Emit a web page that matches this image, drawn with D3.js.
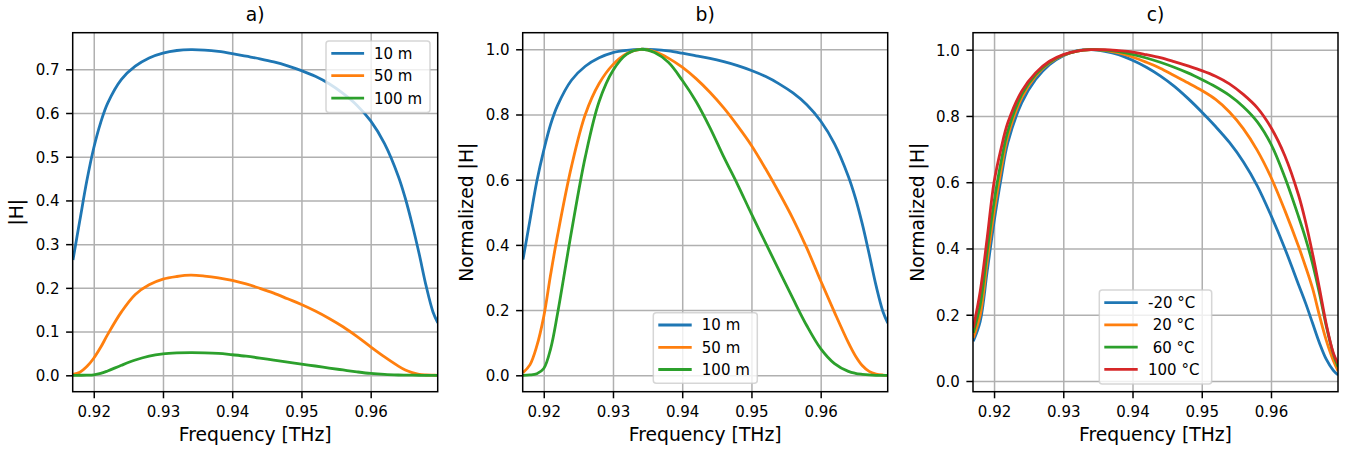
<!DOCTYPE html>
<html><head><meta charset="utf-8">
<script src="https://cdn.jsdelivr.net/npm/d3@7"></script>
<style>
body{margin:0;background:#fff}
svg{display:block}
text{font-family:"DejaVu Sans",sans-serif;fill:#000}
</style>
</head><body>
<svg id="chart" width="1351" height="452"></svg>
<script>
// ---------------- data ----------------
const freq = [0.917,0.918,0.919,0.920,0.921,0.922,0.924,0.926,0.928,0.930,0.932,0.934,0.936,0.938,0.940,0.942,0.944,0.946,0.948,0.950,0.952,0.954,0.956,0.958,0.960,0.962,0.964,0.965,0.966,0.967,0.968,0.969,0.9697];
const xTicks = [0.92,0.93,0.94,0.95,0.96];
const yTicksA = [0,0.1,0.2,0.3,0.4,0.5,0.6,0.7];
const yTicksBC = [0,0.2,0.4,0.6,0.8,1.0];
const lengthLabels = ["10 m","50 m","100 m"];
const tempLabels = ["-20 °C"," 20 °C"," 60 °C","100 °C"];
const titles = ["a)","b)","c)"];
const xLabel = "Frequency [THz]";
const yLabels = ["|H|","Normalized |H|","Normalized |H|"];

// a) |H|
const absH10  = [0.264,0.355,0.445,0.52,0.578,0.622,0.677,0.707,0.726,0.737,0.743,0.745,0.744,0.741,0.736,0.730,0.724,0.717,0.708,0.697,0.684,0.667,0.645,0.618,0.582,0.530,0.455,0.405,0.345,0.278,0.205,0.145,0.120];
const absH50  = [0.002,0.007,0.02,0.039,0.064,0.093,0.145,0.185,0.207,0.220,0.226,0.229,0.227,0.223,0.217,0.209,0.199,0.188,0.175,0.162,0.147,0.130,0.111,0.089,0.065,0.042,0.021,0.012,0.006,0.002,0.0007,0.0002,0];
const absH100 = [0,0.0001,0.0003,0.0011,0.0042,0.0098,0.023,0.035,0.044,0.049,0.0512,0.052,0.0515,0.050,0.047,0.0437,0.0395,0.0348,0.0304,0.0257,0.0213,0.0166,0.0122,0.0079,0.0042,0.0019,0.0007,0.0004,0.0002,0.0001,0,0,0];

// b) normalized |H|
const normH10  = [0.355,0.475,0.595,0.69,0.77,0.828,0.905,0.948,0.974,0.990,0.997,1.0,0.999,0.995,0.988,0.980,0.972,0.962,0.950,0.935,0.917,0.894,0.866,0.830,0.780,0.710,0.610,0.545,0.465,0.372,0.275,0.195,0.160];
const normH50  = [0.008,0.032,0.09,0.18,0.31,0.43,0.64,0.80,0.895,0.953,0.987,1.0,0.993,0.973,0.945,0.910,0.868,0.820,0.765,0.705,0.635,0.560,0.480,0.390,0.290,0.193,0.100,0.060,0.030,0.012,0.004,0.0008,0];
const normH100 = [0,0.001,0.005,0.021,0.082,0.19,0.44,0.67,0.84,0.935,0.985,1.0,0.990,0.960,0.905,0.840,0.760,0.670,0.585,0.495,0.408,0.321,0.235,0.152,0.082,0.036,0.012,0.006,0.003,0.001,0,0,0];

// c) normalized |H| vs temperature
const tempM20 = [0.12,0.18,0.33,0.48,0.61,0.72,0.84,0.91,0.955,0.982,0.997,1.0,0.995,0.985,0.968,0.947,0.921,0.89,0.853,0.812,0.768,0.72,0.662,0.59,0.50,0.40,0.29,0.235,0.175,0.115,0.065,0.032,0.018];
const temp20  = [0.13,0.2,0.36,0.51,0.635,0.74,0.855,0.92,0.96,0.983,0.996,1.0,0.998,0.99,0.978,0.962,0.944,0.922,0.9,0.877,0.85,0.812,0.762,0.697,0.615,0.515,0.405,0.345,0.28,0.198,0.122,0.062,0.03];
const temp60  = [0.145,0.23,0.39,0.54,0.66,0.755,0.865,0.925,0.962,0.984,0.996,1.0,0.999,0.994,0.986,0.975,0.962,0.947,0.93,0.91,0.888,0.862,0.828,0.783,0.715,0.615,0.495,0.43,0.355,0.265,0.165,0.082,0.042];
const temp100 = [0.16,0.27,0.43,0.6,0.7,0.78,0.875,0.93,0.965,0.985,0.996,1.0,1.0,0.997,0.993,0.985,0.976,0.964,0.951,0.937,0.92,0.897,0.865,0.825,0.765,0.68,0.56,0.48,0.385,0.28,0.17,0.085,0.052];

const colors = ["#1f77b4","#ff7f0e","#2ca02c","#d62728"];

// ---------------- layout ----------------
const TOP = 32.7, W = 365, H = 359;
const xDomain = [0.91696, 0.96968];
const panels = [
  {left:72.7, yDomain:[-0.0375,0.7837], yTicks:yTicksA, series:[absH10,absH50,absH100], labels:lengthLabels,
   legend:{x:326,y:41,w:104,h:71.5,rows:[53.3,75.7,98.2],lx0:332.7,lx1:362.7,tx:374}},
  {left:522.7, yDomain:[-0.0503,1.0509], yTicks:yTicksBC, series:[normH10,normH50,normH100], labels:lengthLabels,
   legend:{x:653.3,y:312.7,w:104,h:70.5,rows:[325,347.3,369.5],lx0:659.7,lx1:690.3,tx:701.8}},
  {left:973, yDomain:[-0.0323,1.0513], yTicks:yTicksBC, series:[tempM20,temp20,temp60,temp100], labels:tempLabels,
   legend:{x:1099.3,y:290,w:112.4,h:94,rows:[302.7,324.9,347.1,369.3],lx0:1105.7,lx1:1136.3,tx:1148}}
];

const svg = d3.select("#chart");
const defs = svg.append("defs");

panels.forEach((p, pi) => {
  const x = d3.scaleLinear().domain(xDomain).range([p.left, p.left + W]);
  const y = d3.scaleLinear().domain(p.yDomain).range([TOP + H, TOP]);
  const g = svg.append("g");

  defs.append("clipPath").attr("id", "clip" + pi)
    .append("rect").attr("x", p.left).attr("y", TOP).attr("width", W).attr("height", H);

  // grid
  const gx = g.append("g").attr("transform", `translate(0,${TOP + H})`)
    .call(d3.axisBottom(x).tickValues(xTicks).tickSize(-H).tickFormat(""));
  gx.select(".domain").remove();
  gx.selectAll("line").attr("stroke", "#b0b0b0").attr("stroke-width", 1.5);
  const gy = g.append("g").attr("transform", `translate(${p.left},0)`)
    .call(d3.axisLeft(y).tickValues(p.yTicks).tickSize(-W).tickFormat(""));
  gy.select(".domain").remove();
  gy.selectAll("line").attr("stroke", "#b0b0b0").attr("stroke-width", 1.5);

  // data lines
  const line = d3.line().x((d, i) => x(freq[i])).y(d => y(d)).curve(d3.curveCatmullRom.alpha(0.5));
  g.append("g").attr("clip-path", `url(#clip${pi})`)
    .selectAll("path").data(p.series).join("path")
    .attr("d", line).attr("fill", "none")
    .attr("stroke", (d, i) => colors[i]).attr("stroke-width", 2.8)
    .attr("stroke-linejoin", "round");

  // spines
  g.append("rect").attr("x", p.left).attr("y", TOP).attr("width", W).attr("height", H)
    .attr("fill", "none").attr("stroke", "#000").attr("stroke-width", 1.5);

  // tick axes
  const xa = g.append("g").attr("transform", `translate(0,${TOP + H})`)
    .call(d3.axisBottom(x).tickValues(xTicks).tickSize(6.6).tickPadding(8.3).tickFormat(d3.format(".2f")));
  xa.attr("font-size", 15).attr("font-family", "DejaVu Sans");
  xa.select(".domain").remove();
  xa.selectAll("line").attr("stroke", "#000").attr("stroke-width", 1.5);
  xa.selectAll("text").attr("fill", "#000");

  const ya = g.append("g").attr("transform", `translate(${p.left},0)`)
    .call(d3.axisLeft(y).tickValues(p.yTicks).tickSize(6.6).tickPadding(6.6).tickFormat(d3.format(".1f")));
  ya.attr("font-size", 15).attr("font-family", "DejaVu Sans");
  ya.select(".domain").remove();
  ya.selectAll("line").attr("stroke", "#000").attr("stroke-width", 1.5);
  ya.selectAll("text").attr("fill", "#000").attr("dy", "0.36em");

  // title & labels
  const cx = p.left + W / 2;
  g.append("text").attr("x", cx).attr("y", 21).attr("text-anchor", "middle")
    .attr("font-size", "18.75px").text(titles[pi]);
  g.append("text").attr("x", cx).attr("y", 441).attr("text-anchor", "middle")
    .attr("font-size", "18.75px").text(xLabel);
  g.append("text").attr("transform", `translate(${p.left - 49.3},${TOP + H / 2}) rotate(-90)`)
    .attr("text-anchor", "middle").attr("font-size", "18.75px").text(yLabels[pi]);

  // legend
  const L = p.legend;
  const lg = g.append("g");
  lg.append("rect").attr("x", L.x).attr("y", L.y).attr("width", L.w).attr("height", L.h)
    .attr("rx", 3).attr("fill", "#fff").attr("fill-opacity", 0.8)
    .attr("stroke", "#cccccc").attr("stroke-opacity", 0.8).attr("stroke-width", 1.5);
  p.labels.forEach((lab, i) => {
    lg.append("line").attr("x1", L.lx0).attr("x2", L.lx1).attr("y1", L.rows[i]).attr("y2", L.rows[i])
      .attr("stroke", colors[i]).attr("stroke-width", 2.8).attr("stroke-linecap", "square");
    lg.append("text").attr("x", L.tx).attr("y", L.rows[i] + 5.4)
      .attr("font-size", "15px").style("white-space", "pre").text(lab);
  });
});
</script>
</body></html>
